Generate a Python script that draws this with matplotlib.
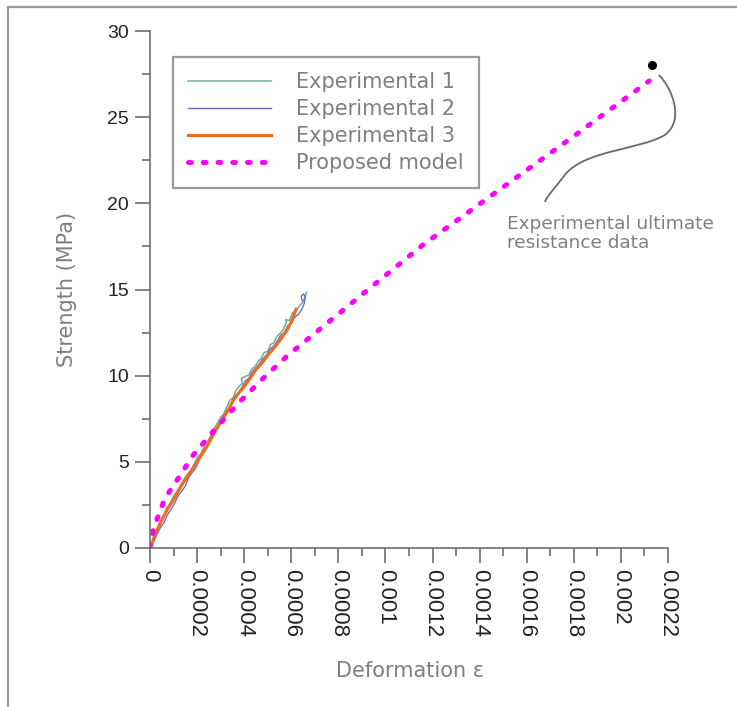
import matplotlib
matplotlib.use("Agg")
import matplotlib.pyplot as plt
from matplotlib.lines import Line2D
from matplotlib.patches import PathPatch
from matplotlib.path import Path

# --- Data ------------------------------------------------------------------

# Experimental 1 (strain, MPa)
exp1_strain = [0, 0.000015, 0.00003, 0.000045, 0.00006, 0.00007, 0.000085, 0.0001,
               0.000115, 0.00013, 0.000145, 0.00016, 0.000175, 0.00019, 0.0002,
               0.000215, 0.00023, 0.000245, 0.00026, 0.000272, 0.000285, 0.0003,
               0.000312, 0.000325, 0.00034, 0.000352, 0.000365, 0.00038, 0.000392,
               0.000388, 0.000405, 0.00042, 0.000432, 0.000445, 0.00046, 0.000472,
               0.000485, 0.0005, 0.000512, 0.000525, 0.00054, 0.000552, 0.000565,
               0.00058, 0.000576, 0.000592, 0.000605, 0.00062, 0.000632, 0.000645,
               0.000655, 0.000665]
exp1_stress = [0, 0.55, 1.05, 1.6, 1.95, 2.3, 2.6, 3.0,
               3.3, 3.65, 4.0, 4.3, 4.55, 4.95, 5.25,
               5.45, 5.9, 6.2, 6.55, 6.95, 7.2, 7.6,
               7.75, 8.15, 8.6, 8.7, 9.15, 9.4, 9.55,
               9.85, 9.95, 10.05, 10.4, 10.5, 10.85, 11.0,
               11.35, 11.4, 11.8, 11.9, 12.3, 12.45, 12.65,
               13.1, 13.25, 13.2, 13.65, 13.75, 14.0, 14.2,
               14.45, 14.85]

# Experimental 2
exp2_strain = [0, 0.000015, 0.00003, 0.000045, 0.00006, 0.000075, 0.00009, 0.000105,
               0.00012, 0.000135, 0.00015, 0.000165, 0.00018, 0.000195, 0.00021,
               0.000225, 0.00024, 0.000255, 0.00027, 0.000285, 0.0003, 0.000315,
               0.00033, 0.000345, 0.00036, 0.000375, 0.00039, 0.000405, 0.00042,
               0.000435, 0.00045, 0.000465, 0.00048, 0.000495, 0.00051, 0.000525,
               0.00054, 0.000555, 0.00057, 0.000585, 0.0006, 0.000615, 0.00063,
               0.000645, 0.000655, 0.00066, 0.000652, 0.000642, 0.000648]
exp2_stress = [0, 0.35, 0.8, 1.2, 1.5, 1.95, 2.25, 2.6,
               3.05, 3.3, 3.6, 4.1, 4.4, 4.65, 5.15,
               5.6, 5.85, 6.3, 6.75, 6.95, 7.35, 7.75,
               8.05, 8.35, 8.8, 9.0, 9.3, 9.7, 9.85,
               10.25, 10.45, 10.7, 11.0, 11.2, 11.55, 11.7,
               12.0, 12.35, 12.5, 12.9, 13.05, 13.4, 13.55,
               13.85, 14.2, 14.55, 14.75, 14.6, 14.3]

# Experimental 3
exp3_strain = [0, 0.00002, 0.000043, 0.00007, 0.0001, 0.00013, 0.00017, 0.0002,
               0.00024, 0.00027, 0.0003, 0.00033, 0.000355, 0.00038, 0.000405,
               0.000425, 0.00045, 0.00048, 0.000495, 0.00052, 0.000552, 0.00058,
               0.0006, 0.00062]
exp3_stress = [0, 0.7, 1.43, 2.15, 2.8, 3.55, 4.35, 5.0,
               5.85, 6.6, 7.3, 7.95, 8.6, 9.05, 9.45,
               9.85, 10.35, 10.8, 11.1, 11.5, 12.05, 12.6,
               13.1, 13.85]

# Proposed model
model_strain = [0, 0.000014, 0.000064, 0.000106, 0.000184, 0.000283, 0.000382,
                0.000481, 0.000587, 0.000708, 0.0009, 0.00116, 0.001465, 0.0018,
                0.00212]
model_stress = [0, 1.1, 2.9, 3.75, 5.4, 7.0, 8.5,
                9.85, 11.2, 12.55, 14.7, 17.6, 20.6, 23.9,
                27.1]

# Experimental ultimate resistance
ultimate_strain = 0.00213
ultimate_stress = 28.0

x_ticks = [0, 0.0002, 0.0004, 0.0006, 0.0008, 0.001, 0.0012, 0.0014, 0.0016,
           0.0018, 0.002, 0.0022]
x_tick_labels = ["0", "0.0002", "0.0004", "0.0006", "0.0008", "0.001", "0.0012",
                 "0.0014", "0.0016", "0.0018", "0.002", "0.0022"]
y_ticks = [0, 5, 10, 15, 20, 25, 30]

# --- Plot ------------------------------------------------------------------

GREY_TXT = "#7f7f7f"
AXIS_C = "#6e6e6e"

fig = plt.figure(figsize=(7.37, 7.07), dpi=100)
ax = fig.add_axes([150 / 737, 1 - 548 / 707, 518 / 737, 517 / 707])

ax.plot(exp1_strain, exp1_stress, color="#6fae98", lw=1.1, label="Experimental 1")
ax.plot(exp2_strain, exp2_stress, color="#6b6bd2", lw=1.0, label="Experimental 2")
ax.plot(exp3_strain, exp3_stress, color="#f26b1d", lw=2.2, label="Experimental 3")
ax.plot(model_strain, model_stress, color="#ff00ff", lw=3.6,
        linestyle=(0, (0.55, 2.4)), dash_capstyle="round", label="Proposed model")
ax.plot([ultimate_strain], [ultimate_stress], "o", color="black", ms=5.5, zorder=5)

# curved leader from the ultimate point down to its note
verts = [(0.002161, 27.45),
         (0.002217, 26.70), (0.002272, 24.84), (0.002187, 23.97),
         (0.002081, 23.10), (0.001847, 23.10), (0.001762, 21.65),
         (0.00172, 20.89), (0.00169, 20.49), (0.001677, 20.08)]
codes = [Path.MOVETO] + [Path.CURVE4] * 9
ax.add_patch(PathPatch(Path(verts, codes), facecolor="none", edgecolor="#6a6a6a",
                       lw=1.3, clip_on=False))
ax.text(0.001516, 19.35, "Experimental ultimate\nresistance data", color=GREY_TXT,
        fontsize=13.3, ha="left", va="top", linespacing=1.1)

ax.set_xlim(0, 0.0022)
ax.set_ylim(0, 30)
ax.set_xticks(x_ticks)
ax.set_xticklabels(x_tick_labels, rotation=270, fontfamily="Liberation Sans",
                   fontsize=16, color="#222222")
ax.set_xticks([t + 0.0001 for t in x_ticks[:-1]], minor=True)
ax.set_yticks(y_ticks)
ax.set_yticklabels([str(v) for v in y_ticks], fontfamily="Liberation Sans",
                   fontsize=14, color="#222222")
ax.set_yticks([v + 2.5 for v in y_ticks[:-1]], minor=True)

for s in ("top", "right"):
    ax.spines[s].set_visible(False)
for s in ("left", "bottom"):
    ax.spines[s].set_color(AXIS_C)
    ax.spines[s].set_linewidth(1.2)
ax.tick_params(which="major", direction="out", length=11, width=1.2, color=AXIS_C, pad=4)
ax.tick_params(which="minor", direction="out", length=6, width=1.2, color=AXIS_C)

ax.set_ylabel("Strength (MPa)", color=GREY_TXT, fontsize=15)
ax.yaxis.set_label_coords(-0.141, 0.5)
ax.set_xlabel("Deformation ε", color=GREY_TXT, fontsize=15)
ax.xaxis.set_label_coords(0.502, -0.218)

leg = ax.legend(loc="upper left", bbox_to_anchor=(0.0444, 0.9497), borderaxespad=0,
                fontsize=15, handlelength=4.0, handletextpad=1.2, labelspacing=0.34,
                borderpad=0.72, fancybox=False, framealpha=1, edgecolor="#9a9a9a")
leg.get_frame().set_linewidth(1.6)
for t in leg.get_texts():
    t.set_color(GREY_TXT)

# outer frame lines at top and left
fig.add_artist(Line2D([8 / 737, 8 / 737], [0, 1 - 7 / 707], color="#9a9a9a", lw=1.6))
fig.add_artist(Line2D([8 / 737, 1], [1 - 7 / 707, 1 - 7 / 707], color="#9a9a9a", lw=1.6))

fig.savefig("out.png", dpi=100)
